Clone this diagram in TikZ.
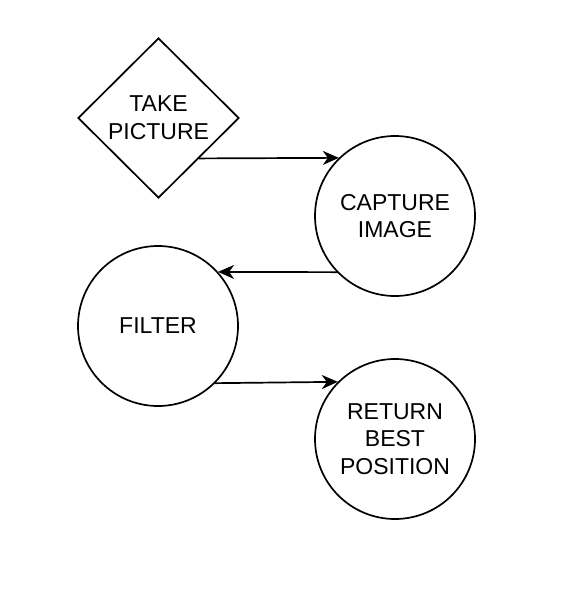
\documentclass[tikz,border=0pt]{standalone}
\usepackage{fontspec}
\setmainfont{Liberation Sans}
\usetikzlibrary{shapes.geometric,arrows.meta}
\begin{document}
\begin{tikzpicture}[x=1pt,y=-1pt,
  every node/.style={font=\fontsize{23}{27.6}\selectfont, align=center, line width=1.7pt, inner sep=0pt},
  proc/.style={draw, circle, minimum size=160pt},
  decide/.style={draw, diamond, minimum width=161pt, minimum height=160pt},
  flow/.style={draw, line width=1.7pt, -{Stealth[length=16pt,width=14pt,inset=5pt]}}]
\useasboundingbox (0,0) rectangle (570,604);
\node[decide] (take) at (158.5,118) {TAKE\\PICTURE};
\node[proc] (cap) at (395,216) {CAPTURE\\IMAGE};
\node[proc] (filter) at (158,326) {FILTER};
\node[proc] (ret) at (395,439) {RETURN\\BEST\\POSITION};
\draw[flow] (take.south east) -- (cap.134);
\draw[flow] (cap.224) -- (filter.42.5);
\draw[flow] (filter.-45) -- (ret.135);
\end{tikzpicture}
\end{document}
